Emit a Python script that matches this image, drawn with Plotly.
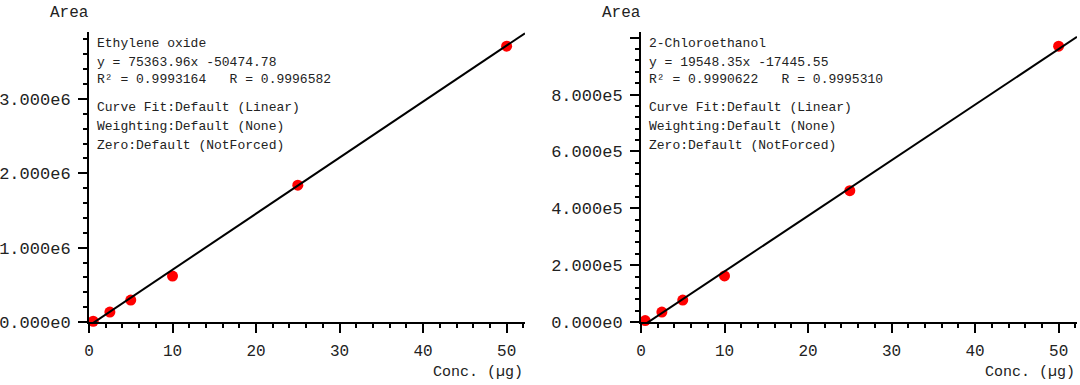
import plotly.graph_objects as go

# ---- data ----
conc = [0.5, 2.5, 5, 10, 25, 50]
eo_area = [1.0e4, 1.34e5, 2.95e5, 6.17e5, 1.84e6, 3.71e6]
ce_area = [5.0e3, 3.5e4, 7.7e4, 1.62e5, 4.62e5, 9.70e5]

eo_slope, eo_intercept = 75363.96, -50474.78
ce_slope, ce_intercept = 19548.35, -17445.55

eo_ticks = [0, 1e6, 2e6, 3e6]
eo_ticktext = ["0.000e0", "1.000e6", "2.000e6", "3.000e6"]
ce_ticks = [0, 2e5, 4e5, 6e5, 8e5, 1e6]
ce_ticktext = ["0.000e0", "2.000e5", "4.000e5", "6.000e5", "8.000e5", ""]
x_ticks = [0, 10, 20, 30, 40, 50]

NB = "\u00a0"
eo_lines_a = ["Ethylene oxide", "y = 75363.96x -50474.78",
              "R² = 0.9993164" + NB * 3 + "R = 0.9996582"]
ce_lines_a = ["2-Chloroethanol", "y = 19548.35x -17445.55",
              "R² = 0.9990622" + NB * 3 + "R = 0.9995310"]
common_lines_b = ["Curve Fit:Default (Linear)", "Weighting:Default (None)",
                  "Zero:Default (NotForced)"]

X_MAX = 52.2
FONT = "Liberation Mono"
W, H = 1080, 385


def px_x(p):
    return p / W


def px_y(p):
    return (H - p) / H


fig = go.Figure()

for xa, ya, area, slope, inter in [("x", "y", eo_area, eo_slope, eo_intercept),
                                    ("x2", "y2", ce_area, ce_slope, ce_intercept)]:
    fig.add_trace(go.Scatter(x=conc, y=area, mode="markers", xaxis=xa, yaxis=ya,
                             marker=dict(color="#ff0000", size=11), cliponaxis=False,
                             showlegend=False))
    lx = [0, X_MAX]
    ly = [slope * v + inter for v in lx]
    fig.add_trace(go.Scatter(x=lx, y=ly, mode="lines", xaxis=xa, yaxis=ya,
                             line=dict(color="black", width=2), showlegend=False))


def xaxis(domain, anchor):
    return dict(domain=domain, anchor=anchor, range=[0, X_MAX], showline=True,
                automargin=False,
                linecolor="black", linewidth=2, ticks="outside", ticklen=9, tickwidth=2,
                tickcolor="black", tickvals=x_ticks, showgrid=False, zeroline=False,
                minor=dict(tick0=0, dtick=2, ticks="outside", ticklen=4, tickwidth=2,
                           tickcolor="black"),
                tickfont=dict(family=FONT, size=16, color="#222"), ticklabelstandoff=4)


def yaxis(domain, anchor, rng, tv, tt, minor_dt):
    return dict(domain=domain, anchor=anchor, range=rng, showline=True,
                automargin=False,
                linecolor="black", linewidth=2, ticks="outside", ticklen=9, tickwidth=2,
                tickcolor="black", tickvals=tv, ticktext=tt, showgrid=False, zeroline=False,
                minor=dict(tick0=0, dtick=minor_dt, ticks="outside", ticklen=4, tickwidth=2,
                           tickcolor="black"),
                tickfont=dict(family=FONT, size=17, color="#222"), ticklabelstandoff=4)


ydom = [px_y(322), px_y(32)]
fig.update_layout(
    width=W, height=H, margin=dict(l=0, r=0, t=0, b=0, autoexpand=False),
    paper_bgcolor="white", plot_bgcolor="white",
    xaxis=xaxis([px_x(89), px_x(525)], "y"),
    yaxis=yaxis(ydom, "x", [0, 3.9e6], eo_ticks, eo_ticktext, 2e5),
    xaxis2=xaxis([px_x(641), px_x(1077)], "y2"),
    yaxis2=yaxis(ydom, "x2", [0, 1.02e6], ce_ticks, ce_ticktext, 4e4),
)

anns = []
line_ys_a = [43, 62, 80]
line_ys_b = [107, 126, 145]
for x0, lines_a in [(95, eo_lines_a), (647, ce_lines_a)]:
    for txt, yy in zip(lines_a + common_lines_b, line_ys_a + line_ys_b):
        anns.append(dict(x=px_x(x0), y=px_y(yy), xref="paper", yref="paper",
                         text=txt, showarrow=False, xanchor="left", yanchor="middle",
                         font=dict(family=FONT, size=13, color="#222")))
    # y-axis title
    anns.append(dict(x=px_x(x0 - 47), y=px_y(13), xref="paper", yref="paper",
                     text="Area", showarrow=False, xanchor="left", yanchor="middle",
                     font=dict(family=FONT, size=16, color="#222")))
for xr in [525, 1077]:
    anns.append(dict(x=px_x(xr), y=px_y(372), xref="paper", yref="paper",
                     text="Conc. (µg)", showarrow=False, xanchor="right", yanchor="middle",
                     font=dict(family=FONT, size=15, color="#222")))
fig.update_layout(annotations=anns)

fig.write_html("out.html", config={"displayModeBar": False},
               post_script="document.body.style.margin='0px';document.body.style.overflow='hidden';")
